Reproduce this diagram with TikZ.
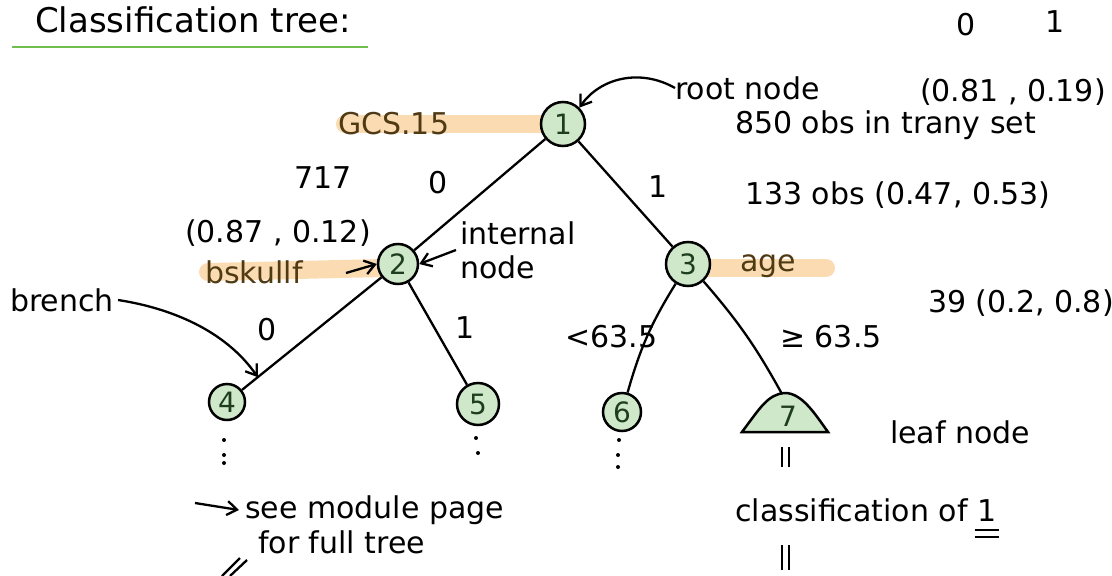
\documentclass[tikz,border=0pt]{standalone}
\usepackage{fontspec}
\setsansfont{DejaVu Sans}
\usetikzlibrary{arrows.meta,calc}
\definecolor{leafgreen}{RGB}{208,232,202}
\definecolor{titlegreen}{RGB}{112,190,80}
\definecolor{hlorange}{RGB}{250,214,165}
\definecolor{inkbrown}{RGB}{80,58,20}
\definecolor{nodeink}{RGB}{30,60,30}
\tikzset{
  ink/.style={font=\sffamily\fontsize{30}{34}\selectfont, inner sep=0pt},
  tnode/.style={circle, draw=black, line width=2.5pt, fill=leafgreen, text=nodeink,
     font=\sffamily\fontsize{28}{32}\selectfont, inner sep=0pt},
  edge/.style={line width=2.3pt, black},
  hl/.style={draw=hlorange, line width=18pt, line cap=round, opacity=0.85},
  pointer/.style={line width=2.3pt, -{Straight Barb[length=10pt,width=14pt]}},
  dotink/.style={fill=black},
}
\begin{document}
\begin{tikzpicture}[x=1pt,y=-1pt]
\useasboundingbox (0,0) rectangle (1112,576);
% title
\node[ink, anchor=west, font=\sffamily\fontsize{34}{38}\selectfont] (title) at (35,20) {Classification tree:};
\draw[titlegreen, line width=2.8pt] (12,47) -- (368,47);
% class header
\node[ink] (c0) at (966,25) {0};
\node[ink] (c1) at (1055,22) {1};
\node[ink, anchor=west] (rootprob) at (920,92) {(0.81 , 0.19)};
\node[ink, anchor=west] (rootlbl) at (675,88) {root node};
\node[ink, anchor=west] (rootobs) at (735,125) {850 obs in trany set};
% highlights
\draw[hl] (345,124) -- (548,124);
\draw[hl] (208,272) -- (384,268);
\draw[hl] (702,268) -- (826,268);
% nodes
\node[tnode, minimum size=44pt] (n1) at (563,124) {1};
\node[tnode, minimum size=40pt] (n2) at (398,264) {2};
\node[tnode, minimum size=44pt] (n3) at (688,264) {3};
\node[tnode, minimum size=36pt] (n4) at (227,402) {4};
\node[tnode, minimum size=42pt] (n5) at (478,404) {5};
\node[tnode, minimum size=38pt] (n6) at (622,412) {6};
% leaf 7 mound
\filldraw[fill=leafgreen, draw=black, line width=2.5pt]
  (742,432) .. controls (760,408) and (768,394) .. (785,393)
  .. controls (802,393) and (815,414) .. (828,432) -- cycle;
\node[tnode, draw=none, fill=none] (n7) at (788,416) {7};
\coordinate (n7top) at (782,394);
% split variables
\node[ink, text=inkbrown, anchor=west] (gcs) at (338,124) {GCS.15};
\node[ink, text=inkbrown, anchor=west] (bsk) at (205,272) {bskullf};
\node[ink, text=inkbrown, anchor=west] (age) at (740,266) {age};
% edges
\draw[edge] (n1) -- (n2);
\draw[edge] (n1) -- (n3);
\draw[edge] (n2) -- (n4);
\draw[edge] (n2) -- (n5);
\draw[edge] (n3) to[bend right=8] (n6);
\draw[edge] (n3) to[bend left=6] (n7top);
% edge labels
\node[ink] (e12) at (438,183) {0};
\node[ink] (e13) at (658,187) {1};
\node[ink] (e24) at (267,330) {0};
\node[ink] (e25) at (465,328) {1};
\node[ink, anchor=west] (e36) at (565,337) {<63.5};
\node[ink, anchor=west] (e37) at (780,337) {≥ 63.5};
% annotations
\node[ink] (n717) at (323,178) {717};
\node[ink, anchor=west] (n3obs) at (745,195) {133 obs (0.47, 0.53)};
\node[ink, anchor=west] (n2prob) at (185,233) {(0.87 , 0.12)};
\node[ink, anchor=west] (n7obs) at (928,303) {39 (0.2, 0.8)};
\node[ink, align=left, anchor=west] (intlbl) at (460,250) {internal\\node};
\node[ink, anchor=west] (brlbl) at (10,300) {brench};
\node[ink, anchor=west] (leaflbl) at (890,432) {leaf node};
% pointers
\draw[pointer] (rootlbl.west) .. controls (640,68) and (600,78) .. (n1.north east);
\coordinate (bskarrow) at (346,273);
\draw[pointer] (bskarrow) -- (n2.west);
\draw[pointer] ([xshift=-4pt]intlbl.west) -- (n2.east);
\coordinate (brpt) at ($(n2)!0.82!(n4)$);
\draw[pointer] ([xshift=4pt]brlbl.east) .. controls (170,308) and (225,330) .. (brpt);
% continuation dots
\fill[dotink] (224,440) circle (2) (224,455) circle (2) (224,463) circle (2);
\fill[dotink] (476,438) circle (2) (478,453) circle (2);
\fill[dotink] (619,440) circle (2) (618,455) circle (2) (618,467) circle (2);
\draw[line width=2.3pt] (782,447) -- (782,467) (789,447) -- (789,467);
% bottom texts
\node[ink, anchor=west] (classlbl) at (735,510) {classification of 1};
\draw[line width=2.3pt] ($(classlbl.south east)+(-22,8)$) -- ++(24,0) ($(classlbl.south east)+(-22,15)$) -- ++(24,0);
\draw[line width=2.3pt] (782,545) -- (782,570) (789,545) -- (789,570);
\node[ink, anchor=west] (seelbl) at (245,510) {see module page};
\node[ink, anchor=west] (fulllbl) at (258,542) {for full tree};
\coordinate (seestart) at (195,503);
\draw[pointer] (seestart) -- ([xshift=-6pt]seelbl.west);
\draw[line width=2.3pt] (222,576) -- (240,558) (230,576) -- (247,560);
\end{tikzpicture}
\end{document}
